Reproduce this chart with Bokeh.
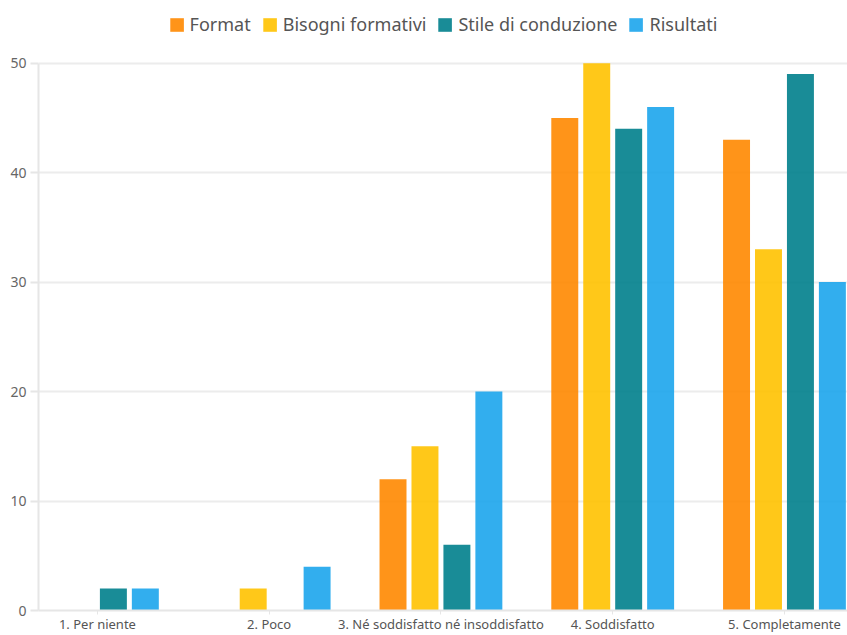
from bokeh.plotting import figure
from bokeh.models import ColumnDataSource, Range1d, FixedTicker, Legend, LegendItem
from bokeh.embed import file_html
from bokeh.resources import INLINE

categories = ["1. Per niente", "2. Poco", "3. Né soddisfatto né insoddisfatto",
              "4. Soddisfatto", "5. Completamente"]
series_names = ["Format", "Bisogni formativi", "Stile di conduzione", "Risultati"]
format_vals = [0, 0, 12, 45, 43]
bisogni_vals = [0, 2, 15, 50, 33]
stile_vals = [2, 0, 6, 44, 49]
risultati_vals = [2, 4, 20, 46, 30]
y_ticks = [0, 10, 20, 30, 40, 50]

colors = ["#FF8800", "#FFC200", "#007F8C", "#1CA5EC"]
all_vals = [format_vals, bisogni_vals, stile_vals, risultati_vals]

FONT = "Noto Sans"
y_max = max(y_ticks)
# extra headroom above the top tick holds the legend
p = figure(width=847, height=635, output_backend="svg", toolbar_location=None,
           x_range=Range1d(0.157, 4.867), y_range=Range1d(0, y_max * 1.1145),
           min_border_left=38, min_border_right=0, min_border_top=0,
           min_border_bottom=0)
p.outline_line_color = None

step = 0.186
bw = 0.157
renderers = []
for k, (name, vals, col) in enumerate(zip(series_names, all_vals, colors)):
    xs = [i + 0.5 + (k - 1.5) * step for i in range(len(categories))]
    src = ColumnDataSource(dict(x=xs, top=vals))
    r = p.vbar(x="x", top="top", width=bw, bottom=0, source=src,
               fill_color=col, fill_alpha=0.9, line_color=None)
    renderers.append((name, r))

p.xgrid.visible = False
p.ygrid.grid_line_color = "#ececec"
p.ygrid.grid_line_width = 2
p.yaxis.ticker = FixedTicker(ticks=y_ticks)
p.yaxis.bounds = (0, y_max)
p.yaxis.axis_line_color = "#e6e6e6"
p.yaxis.axis_line_width = 2
p.yaxis.major_tick_line_color = "#e6e6e6"
p.yaxis.major_tick_line_width = 2
p.yaxis.major_tick_out = 8
p.yaxis.major_tick_in = 0
p.yaxis.minor_tick_line_color = None
p.yaxis.major_label_text_font = FONT
p.yaxis.major_label_text_font_size = "14px"
p.yaxis.major_label_text_color = "#666666"
p.yaxis.major_label_standoff = 4

p.xaxis.ticker = FixedTicker(ticks=[i + 0.5 for i in range(len(categories))])
p.xaxis.major_label_overrides = {i + 0.5: c for i, c in enumerate(categories)}
p.xaxis.axis_line_color = "#e6e6e6"
p.xaxis.axis_line_width = 2
p.xaxis.major_tick_line_color = "#e6e6e6"
p.xaxis.major_tick_out = 4
p.xaxis.major_tick_in = 0
p.xaxis.minor_tick_line_color = None
p.xaxis.major_label_text_font = FONT
p.xaxis.major_label_text_font_size = "13px"
p.xaxis.major_label_text_color = "#555555"
p.xaxis.major_label_standoff = 0

legend = Legend(items=[LegendItem(label=n, renderers=[r]) for n, r in renderers],
                orientation="horizontal", location="top",
                label_text_font=FONT, label_text_font_size="18px",
                label_text_color="#555555", glyph_width=17, glyph_height=17,
                label_standoff=5, spacing=10, padding=2, margin=12,
                border_line_color=None, background_fill_alpha=0)
p.add_layout(legend, "center")

open("out.html", "w").write(file_html(p, INLINE))
